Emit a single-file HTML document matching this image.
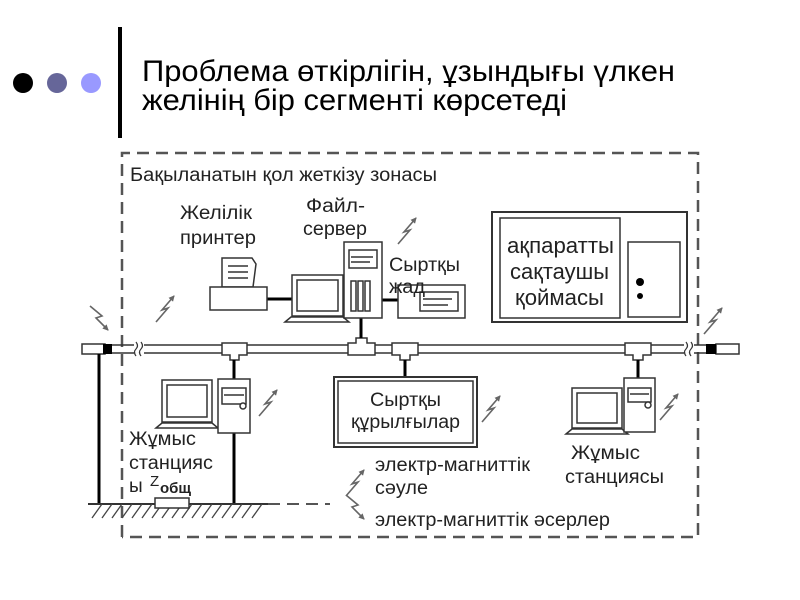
<!DOCTYPE html>
<html><head><meta charset="utf-8"><style>
body{margin:0;background:#fff;}
svg{display:block;font-family:"Liberation Sans",sans-serif;}
</style></head><body>
<svg width="800" height="600" viewBox="0 0 800 600" xmlns="http://www.w3.org/2000/svg">
<defs>
<marker id="ah" markerWidth="6" markerHeight="6" refX="5" refY="3" orient="auto" markerUnits="userSpaceOnUse"><path d="M0,0 L6,3 L0,6 z" fill="#666"/></marker>
<g id="bolt"><polyline points="0,22 12,8 6,10 18,-4" fill="none" stroke="#666" stroke-width="1.6" marker-end="url(#ah)"/></g>
<g id="boltd"><polyline points="0,0 12,10 6,12 18,24" fill="none" stroke="#666" stroke-width="1.6" marker-end="url(#ah)"/></g>
</defs>
<circle cx="23" cy="83" r="10" fill="#000"/>
<circle cx="57" cy="83" r="10" fill="#666699"/>
<circle cx="91" cy="83" r="10" fill="#9999ff"/>
<rect x="118" y="27" width="4" height="111" fill="#000"/>
<text x="142" y="81" font-size="30" fill="#000" textLength="533" lengthAdjust="spacingAndGlyphs">Проблема өткірлігін, ұзындығы үлкен</text>
<text x="142" y="110" font-size="30" fill="#000" textLength="425" lengthAdjust="spacingAndGlyphs">желінің бір сегменті көрсетеді</text>

<!-- dashed zone -->
<path d="M122,537 V153 H698 V537 H122" fill="none" stroke="#555" stroke-width="2.5" stroke-dasharray="12,7"/>

<!-- bus -->
<line x1="105" y1="345" x2="712" y2="345" stroke="#333" stroke-width="1.5"/>
<line x1="105" y1="353" x2="712" y2="353" stroke="#333" stroke-width="1.5"/>
<rect x="82" y="344" width="23" height="10" fill="#fff" stroke="#333" stroke-width="1.5"/>
<rect x="103" y="344" width="9" height="10" fill="#000"/>
<rect x="716" y="344" width="23" height="10" fill="#fff" stroke="#333" stroke-width="1.5"/>
<rect x="706" y="344" width="10" height="10" fill="#000"/>
<rect x="134" y="343" width="10" height="12" fill="#fff"/>
<path d="M136,342 q3,4 0,7 q-3,3 0,7 M141,342 q3,4 0,7 q-3,3 0,7" fill="none" stroke="#333" stroke-width="1.2"/>
<rect x="684" y="343" width="10" height="12" fill="#fff"/>
<path d="M686,342 q3,4 0,7 q-3,3 0,7 M691,342 q3,4 0,7 q-3,3 0,7" fill="none" stroke="#333" stroke-width="1.2"/>
<!-- tees -->
<g fill="#fff" stroke="#333" stroke-width="1.5">
<path d="M222,343 h25 v12 h-8 v5 h-9 v-5 h-8 z"/>
<path d="M348,355 h27 v-12 h-8 v-5 h-11 v5 h-8 z"/>
<path d="M392,343 h26 v12 h-8 v5 h-10 v-5 h-8 z"/>
<path d="M625,343 h26 v12 h-8 v5 h-10 v-5 h-8 z"/>
</g>
<g stroke="#000" stroke-width="3">
<line x1="234" y1="360" x2="234" y2="380"/>
<line x1="234" y1="433" x2="234" y2="504"/>
<line x1="361" y1="338" x2="361" y2="318"/>
<line x1="405" y1="360" x2="405" y2="377"/>
<line x1="638" y1="360" x2="638" y2="378"/>
<line x1="99" y1="354" x2="99" y2="504"/>
<line x1="267" y1="299" x2="292" y2="299"/>
<line x1="382" y1="300" x2="398" y2="300"/>
</g>
<!-- ground -->
<line x1="88" y1="504" x2="268" y2="504" stroke="#333" stroke-width="2"/>
<path d="M92,518 l10,-14 M102,518 l10,-14 M112,518 l10,-14 M122,518 l10,-14 M132,518 l10,-14 M142,518 l10,-14 M152,518 l10,-14 M162,518 l10,-14 M172,518 l10,-14 M182,518 l10,-14 M192,518 l10,-14 M202,518 l10,-14 M212,518 l10,-14 M222,518 l10,-14 M232,518 l10,-14 M242,518 l10,-14 M252,518 l10,-14" stroke="#444" stroke-width="1.3"/>
<rect x="155" y="498" width="34" height="10" fill="#fff" stroke="#333" stroke-width="1.5"/>
<line x1="268" y1="504" x2="330" y2="504" stroke="#555" stroke-width="2" stroke-dasharray="12,7"/>

<g fill="#fff" stroke="#333" stroke-width="1.5">
<path d="M222,287 v-29 h30 l4,6 -3,23 z"/>
<rect x="210" y="287" width="57" height="23"/>
<line x1="228" y1="266" x2="248" y2="266"/><line x1="228" y1="272" x2="248" y2="272"/><line x1="228" y1="278" x2="248" y2="278"/>
<rect x="292" y="275" width="51" height="41"/>
<rect x="297" y="280" width="41" height="31"/>
<path d="M285,322 l6,-5 h52 l6,5 z"/>
<rect x="344" y="242" width="38" height="76"/>
<rect x="349" y="250" width="28" height="18"/>
<line x1="351" y1="257" x2="373" y2="257"/><line x1="351" y1="262" x2="370" y2="262"/>
<rect x="351" y="281" width="5" height="30"/><rect x="358" y="281" width="5" height="30"/><rect x="365" y="281" width="5" height="30"/>
<rect x="398" y="285" width="67" height="33"/>
<rect x="420" y="292" width="38" height="19"/>
<line x1="423" y1="299" x2="452" y2="299"/><line x1="423" y1="305" x2="448" y2="305"/>
<rect x="162" y="380" width="50" height="42"/>
<rect x="167" y="385" width="40" height="32"/>
<path d="M156,428 l6,-5 h50 l6,5 z"/>
<rect x="218" y="379" width="32" height="54"/>
<rect x="222" y="388" width="24" height="16"/>
<line x1="224" y1="395" x2="244" y2="395"/><circle cx="243" cy="406" r="3"/>
<rect x="572" y="388" width="50" height="40"/>
<rect x="577" y="393" width="40" height="30"/>
<path d="M566,434 l6,-5 h50 l6,5 z"/>
<rect x="624" y="378" width="31" height="54"/>
<rect x="628" y="388" width="23" height="14"/>
<line x1="630" y1="394" x2="649" y2="394"/><circle cx="648" cy="405" r="3"/>
<rect x="334" y="377" width="143" height="70" stroke-width="2"/>
<rect x="338" y="381" width="135" height="62"/>
<rect x="492" y="212" width="195" height="110" stroke-width="2"/>
<rect x="500" y="218" width="120" height="100"/>
<rect x="628" y="242" width="52" height="75"/>
</g>
<circle cx="640" cy="282" r="4" fill="#000"/>
<circle cx="640" cy="296" r="3" fill="#000"/>

<use href="#bolt" x="398" y="222"/>
<use href="#bolt" x="156" y="300"/>
<use href="#boltd" x="90" y="306"/>
<use href="#bolt" x="259" y="394"/>
<use href="#bolt" x="482" y="400"/>
<use href="#bolt" x="660" y="398"/>
<use href="#bolt" x="704" y="312"/>
<use href="#bolt" x="346" y="474"/>
<use href="#boltd" x="346" y="495"/>

<g font-size="19" fill="#222" lengthAdjust="spacingAndGlyphs">
<text x="130" y="181" textLength="307" lengthAdjust="spacingAndGlyphs">Бақыланатын қол жеткізу зонасы</text>
<text x="180" y="219" textLength="72" lengthAdjust="spacingAndGlyphs">Желілік</text>
<text x="180" y="244" textLength="76" lengthAdjust="spacingAndGlyphs">принтер</text>
<text x="306" y="212" textLength="59" lengthAdjust="spacingAndGlyphs">Файл-</text>
<text x="303" y="235" textLength="64" lengthAdjust="spacingAndGlyphs">сервер</text>
<text x="389" y="271" textLength="71" lengthAdjust="spacingAndGlyphs">Сыртқы</text>
<text x="389" y="293" textLength="36" lengthAdjust="spacingAndGlyphs">жад</text>
<text x="370" y="406" textLength="71" lengthAdjust="spacingAndGlyphs">Сыртқы</text>
<text x="351" y="428" textLength="109" lengthAdjust="spacingAndGlyphs">құрылғылар</text>
<text x="129" y="445" textLength="67" lengthAdjust="spacingAndGlyphs">Жұмыс</text>
<text x="129" y="469" textLength="84" lengthAdjust="spacingAndGlyphs">станцияс</text>
<text x="129" y="492">ы</text>
<text x="150" y="486" font-size="15">Z</text>
<text x="160" y="493" font-size="15" font-weight="bold">общ</text>
<text x="375" y="471" textLength="155" lengthAdjust="spacingAndGlyphs">электр-магниттік</text>
<text x="375" y="494" textLength="53" lengthAdjust="spacingAndGlyphs">сәуле</text>
<text x="375" y="526" textLength="235" lengthAdjust="spacingAndGlyphs">электр-магниттік әсерлер</text>
<text x="571" y="459" textLength="69" lengthAdjust="spacingAndGlyphs">Жұмыс</text>
<text x="565" y="483" textLength="99" lengthAdjust="spacingAndGlyphs">станциясы</text>
</g>
<g font-size="22" fill="#222">
<text x="507" y="253" textLength="107" lengthAdjust="spacingAndGlyphs">ақпаратты</text>
<text x="510" y="279" textLength="99" lengthAdjust="spacingAndGlyphs">сақтаушы</text>
<text x="515" y="305" textLength="89" lengthAdjust="spacingAndGlyphs">қоймасы</text>
</g>
</svg>
</body></html>
